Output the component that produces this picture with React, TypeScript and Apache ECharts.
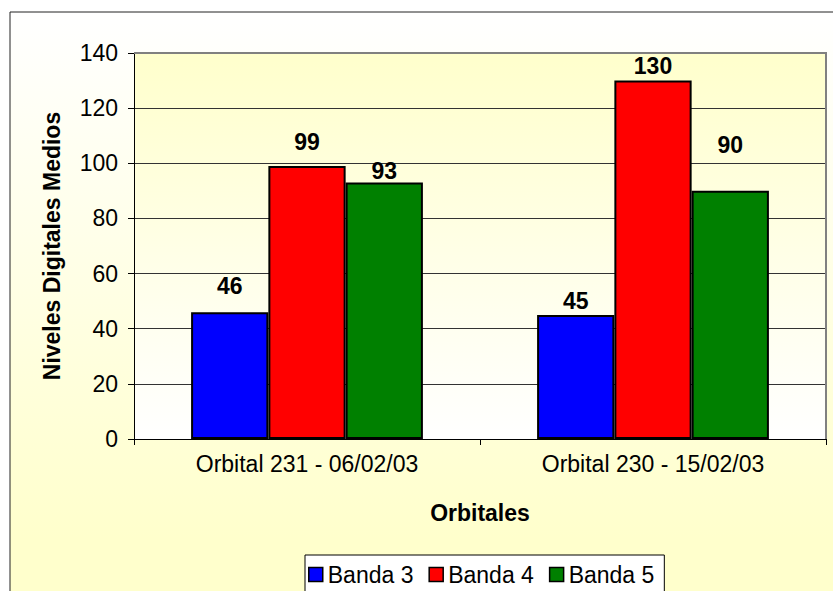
import React, { useEffect, useRef } from "react";
import * as echarts from "echarts";

const categories = ["Orbital 231 - 06/02/03", "Orbital 230 - 15/02/03"];
const seriesNames = ["Banda 3", "Banda 4", "Banda 5"];
const banda3 = [46, 45];
const banda4 = [99, 130];
const banda5 = [93, 90];
const yMin = 0;
const yMax = 140;
const yInterval = 20;
const xAxisTitle = "Orbitales";
const yAxisTitle = "Niveles Digitales Medios";

// style: label distance above each bar (manually placed labels in the original)
const labelDistances = [
  [15, 2],
  [13, 3],
  [0, 34],
];
const barColors = ["#0000FF", "#FF0000", "#008000"];

const FONT = "'Liberation Sans', Arial, sans-serif";
const FS = 23;

export default function App() {
  const ref = useRef<HTMLDivElement>(null);
  useEffect(() => {
    if (!ref.current) return;
    const chart = echarts.init(ref.current, null, { renderer: "svg" });
    const values = [banda3, banda4, banda5];
    const option: any = {
      animation: false,
      textStyle: { fontFamily: FONT },
      graphic: [
        {
          type: "rect",
          z: -100,
          silent: true,
          shape: { x: 10, y: 12, width: 900, height: 620 },
          style: {
            fill: new echarts.graphic.LinearGradient(0, 0, 0, 1, [
              { offset: 0, color: "#FFFFFF" },
              { offset: 0.85, color: "#FFFFCC" },
              { offset: 1, color: "#FFFFCC" },
            ]),
            stroke: "#222",
            lineWidth: 1,
          },
        },
        {
          type: "polyline",
          z: 100,
          silent: true,
          shape: { points: [[134, 53], [826, 53], [826, 439]] },
          style: { stroke: "#808080", lineWidth: 2, fill: null },
        },
      ],
      grid: {
        show: true,
        left: 134,
        top: 53,
        width: 692,
        height: 386,
        borderWidth: 0,
        backgroundColor: new echarts.graphic.LinearGradient(0, 0, 0, 1, [
          { offset: 0, color: "#FFFFCC" },
          { offset: 1, color: "#FFFFFF" },
        ]),
        containLabel: false,
      },
      legend: {
        data: seriesNames,
        left: 305,
        top: 555,
        icon: "rect",
        itemWidth: 14,
        itemHeight: 14,
        itemGap: 15,
        backgroundColor: "#FFFFFF",
        borderColor: "#000",
        borderWidth: 1,
        padding: [8, 10, 40, 3],
        textStyle: { fontSize: FS, color: "#000", fontFamily: FONT },
        itemStyle: { borderColor: "#000", borderWidth: 1.5 },
      },
      xAxis: {
        type: "category",
        data: categories,
        axisLine: { show: true, lineStyle: { color: "#000", width: 1 } },
        axisTick: { show: true, length: 6, lineStyle: { color: "#000" } },
        axisLabel: { fontSize: FS, color: "#000", margin: 13, fontFamily: FONT },
        name: xAxisTitle,
        nameLocation: "middle",
        nameGap: 62,
        nameTextStyle: { fontSize: FS, fontWeight: "bold", color: "#000", fontFamily: FONT },
      },
      yAxis: {
        type: "value",
        min: yMin,
        max: yMax,
        interval: yInterval,
        axisLine: { show: true, lineStyle: { color: "#000", width: 1 } },
        axisTick: { show: true, length: 6, lineStyle: { color: "#000" } },
        axisLabel: { fontSize: FS, color: "#000", margin: 16, fontFamily: FONT },
        splitLine: { show: true, lineStyle: { color: "#333", width: 1 } },
        name: yAxisTitle,
        nameLocation: "middle",
        nameGap: 71,
        nameTextStyle: { fontSize: FS, fontWeight: "bold", color: "#000", fontFamily: FONT },
      },
      series: seriesNames.map((name, s) => ({
        name,
        type: "bar",
        barGap: "0%",
        barCategoryGap: "33%",
        itemStyle: { color: barColors[s], borderColor: "#000", borderWidth: 2 },
        label: {
          show: true,
          position: "top",
          fontSize: FS,
          fontWeight: "bold",
          color: "#000",
          fontFamily: FONT,
        },
        data: values[s].map((v, i) => ({
          value: v,
          label: { distance: labelDistances[s][i] },
        })),
      })),
    };
    chart.setOption(option);
    return () => chart.dispose();
  }, []);
  return (
    <div
      ref={ref}
      style={{ position: "absolute", left: 0, top: 0, width: 833, height: 591 }}
    />
  );
}
